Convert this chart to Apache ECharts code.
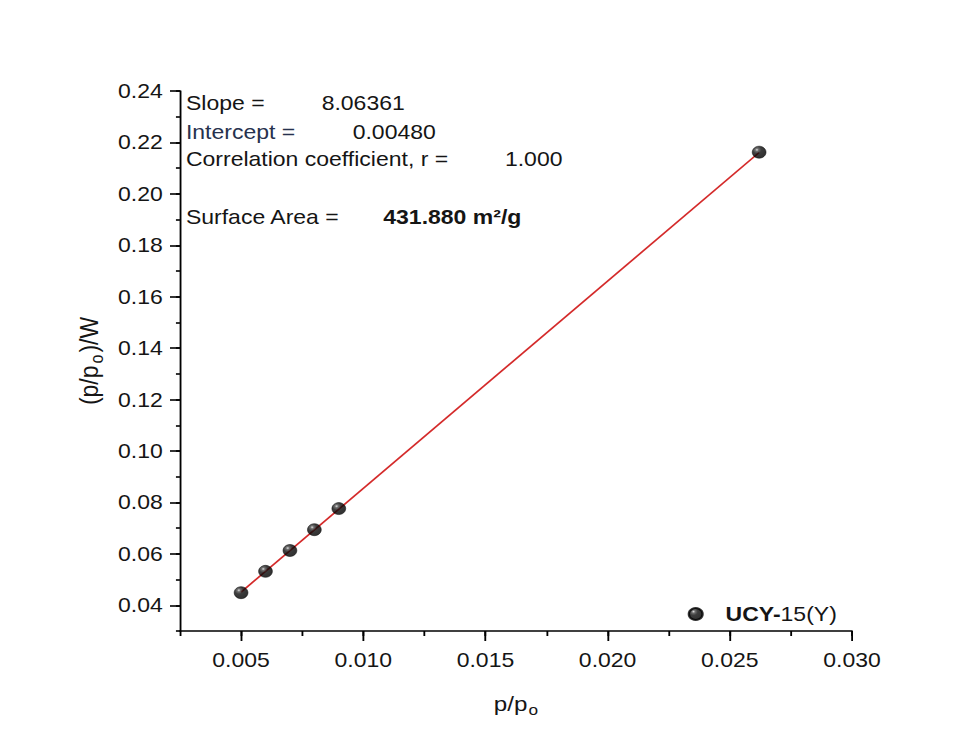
<!DOCTYPE html>
<html>
<head>
<meta charset="utf-8">
<title>BET plot</title>
<script src="https://cdn.jsdelivr.net/npm/echarts@6/dist/echarts.min.js"></script>
<style>
  html, body { margin: 0; padding: 0; background: #ffffff; overflow: hidden; }
  #wrap { width: 974px; height: 746px; overflow: hidden; background: #ffffff; }
  /* the plot is laid out on a narrower canvas and widened horizontally */
  #chart { width: 847px; height: 746px; transform: scaleX(1.14994); transform-origin: 0 0; }
</style>
</head>
<body>
<div id="wrap"><div id="chart"></div></div>
<script>
// relative pressure p/po of the measured points
const relPressure = [0.005, 0.006, 0.007, 0.008, 0.009, 0.0262];
// BET transform (p/po)/W for each point
const betValue = [0.0449, 0.0532, 0.0613, 0.0694, 0.0776, 0.2162];

// linear fit results
const fitSlope = 8.06361;
const fitIntercept = 0.00480;
const fitR = '1.000';
const surfaceArea = '431.880 m²/g';

// axis ticks
const xMajorTicks = [0.005, 0.010, 0.015, 0.020, 0.025, 0.030];
const yMajorTicks = [0.04, 0.06, 0.08, 0.10, 0.12, 0.14, 0.16, 0.18, 0.20, 0.22, 0.24];
const xRange = [0.0025, 0.030];
const yRange = [0.03, 0.24];
const xMinorStep = 0.0025;
const yMinorStep = 0.01;

const sampleName = 'UCY-15(Y)';

const FONT = '"Liberation Sans", Arial, Helvetica, sans-serif';
const INK = '#151515';

const chart = echarts.init(document.getElementById('chart'), null, { renderer: 'svg', width: 847, height: 746 });

// straight line of the fit across the measured range
const xFirst = Math.min(...relPressure);
const xLast = Math.max(...relPressure);
const fitLine = [
  [xFirst, fitSlope * xFirst + fitIntercept],
  [xLast, fitSlope * xLast + fitIntercept]
];

const sphere = new echarts.graphic.RadialGradient(0.34, 0.3, 0.62, [
  { offset: 0, color: '#d8d8d8' },
  { offset: 0.2, color: '#4a4a4a' },
  { offset: 0.5, color: '#0c0c0c' },
  { offset: 1, color: '#000000' }
]);

function noteText(x, y, text, opts) {
  return {
    type: 'text',
    x: x,
    y: y,
    silent: true,
    style: Object.assign({
      text: text,
      fontFamily: FONT,
      fontSize: 20,
      fill: INK,
      verticalAlign: 'middle',
      align: 'left'
    }, opts || {})
  };
}

const axisLineStyle = { show: true, onZero: false, lineStyle: { color: '#000', width: 1.6 } };

const option = {
  backgroundColor: '#ffffff',
  animation: false,
  grid: { left: 156.5, right: 106.1, top: 91, bottom: 115, containLabel: false },
  legend: {
    show: true,
    left: 593,
    top: 599,
    itemWidth: 12,
    itemHeight: 12,
    icon: 'circle',
    data: [sampleName],
    formatter: function () { return '{b|UCY-}{n|15(Y)}'; },
    textStyle: {
      rich: {
        b: { fontFamily: FONT, fontSize: 20, fontWeight: 'bold', color: INK, padding: [0, 0, 0, 15] },
        n: { fontFamily: FONT, fontSize: 20, color: INK }
      }
    }
  },
  xAxis: [
    {
      type: 'value',
      min: xRange[0],
      max: xRange[1],
      name: '{a|p/p}{s|o}',
      nameLocation: 'middle',
      nameGap: 60,
      nameTextStyle: {
        rich: {
          a: { fontFamily: FONT, fontSize: 21, color: INK, lineHeight: 26 },
          s: { fontFamily: FONT, fontSize: 15, color: INK, lineHeight: 15, verticalAlign: 'bottom', padding: [14, 0, 0, 1] }
        }
      },
      axisLine: axisLineStyle,
      axisTick: { show: true, inside: false, length: 10, customValues: xMajorTicks, lineStyle: { color: '#000', width: 1.6 } },
      axisLabel: {
        show: true,
        customValues: xMajorTicks,
        margin: 19,
        fontFamily: FONT,
        fontSize: 20,
        color: INK,
        formatter: function (v) { return v.toFixed(3); }
      },
      splitLine: { show: false }
    },
    {
      type: 'value',
      min: xRange[0],
      max: xRange[1],
      interval: xMinorStep,
      position: 'bottom',
      axisLine: { show: false, onZero: false },
      axisTick: { show: true, inside: false, length: 5, lineStyle: { color: '#000', width: 1.6 } },
      axisLabel: { show: false },
      splitLine: { show: false }
    }
  ],
  yAxis: [
    {
      type: 'value',
      min: yRange[0],
      max: yRange[1],
      name: '{a|(p/p}{s|o}{a|)/W}',
      nameLocation: 'middle',
      nameGap: 60,
      nameRotate: 90,
      nameTextStyle: {
        rich: {
          a: { fontFamily: FONT, fontSize: 23, color: INK, lineHeight: 28 },
          s: { fontFamily: FONT, fontSize: 16, color: INK, lineHeight: 16, verticalAlign: 'bottom', padding: [15, 2, 0, 2] }
        }
      },
      axisLine: axisLineStyle,
      axisTick: { show: true, inside: false, length: 8.7, customValues: yMajorTicks, lineStyle: { color: '#000', width: 1.6 } },
      axisLabel: {
        show: true,
        customValues: yMajorTicks,
        margin: 15,
        fontFamily: FONT,
        fontSize: 20,
        color: INK,
        formatter: function (v) { return v.toFixed(2); }
      },
      splitLine: { show: false }
    },
    {
      type: 'value',
      min: yRange[0],
      max: yRange[1],
      interval: yMinorStep,
      position: 'left',
      offset: 0,
      axisLine: { show: false, onZero: false },
      axisTick: { show: true, inside: false, length: 3.5, lineStyle: { color: '#000', width: 1.6 } },
      axisLabel: { show: false },
      splitLine: { show: false }
    }
  ],
  series: [
    {
      name: 'fit',
      type: 'line',
      xAxisIndex: 0,
      yAxisIndex: 0,
      data: fitLine,
      showSymbol: false,
      symbol: 'none',
      lineStyle: { color: '#d42a2a', width: 1.6 },
      z: 2,
      silent: true
    },
    {
      name: sampleName,
      type: 'scatter',
      xAxisIndex: 0,
      yAxisIndex: 0,
      data: relPressure.map(function (x, i) { return [x, betValue[i]]; }),
      symbol: 'circle',
      symbolSize: 12,
      itemStyle: { color: sphere, borderColor: '#000', borderWidth: 0.6 },
      z: 3
    }
  ],
  graphic: [
    noteText(161.7, 102.7, 'Slope ='),
    noteText(279.7, 102.7, fitSlope.toFixed(5)),
    noteText(161.7, 131.7, 'Intercept =', { fill: '#27324e' }),
    noteText(306.7, 131.7, fitIntercept.toFixed(5)),
    noteText(161.7, 159.3, 'Correlation coefficient, r ='),
    noteText(439.1, 159.3, fitR),
    noteText(161.7, 216.7, 'Surface Area ='),
    noteText(333.3, 216.7, surfaceArea, { fontWeight: 'bold' })
  ]
};

chart.setOption(option);
</script>
</body>
</html>
